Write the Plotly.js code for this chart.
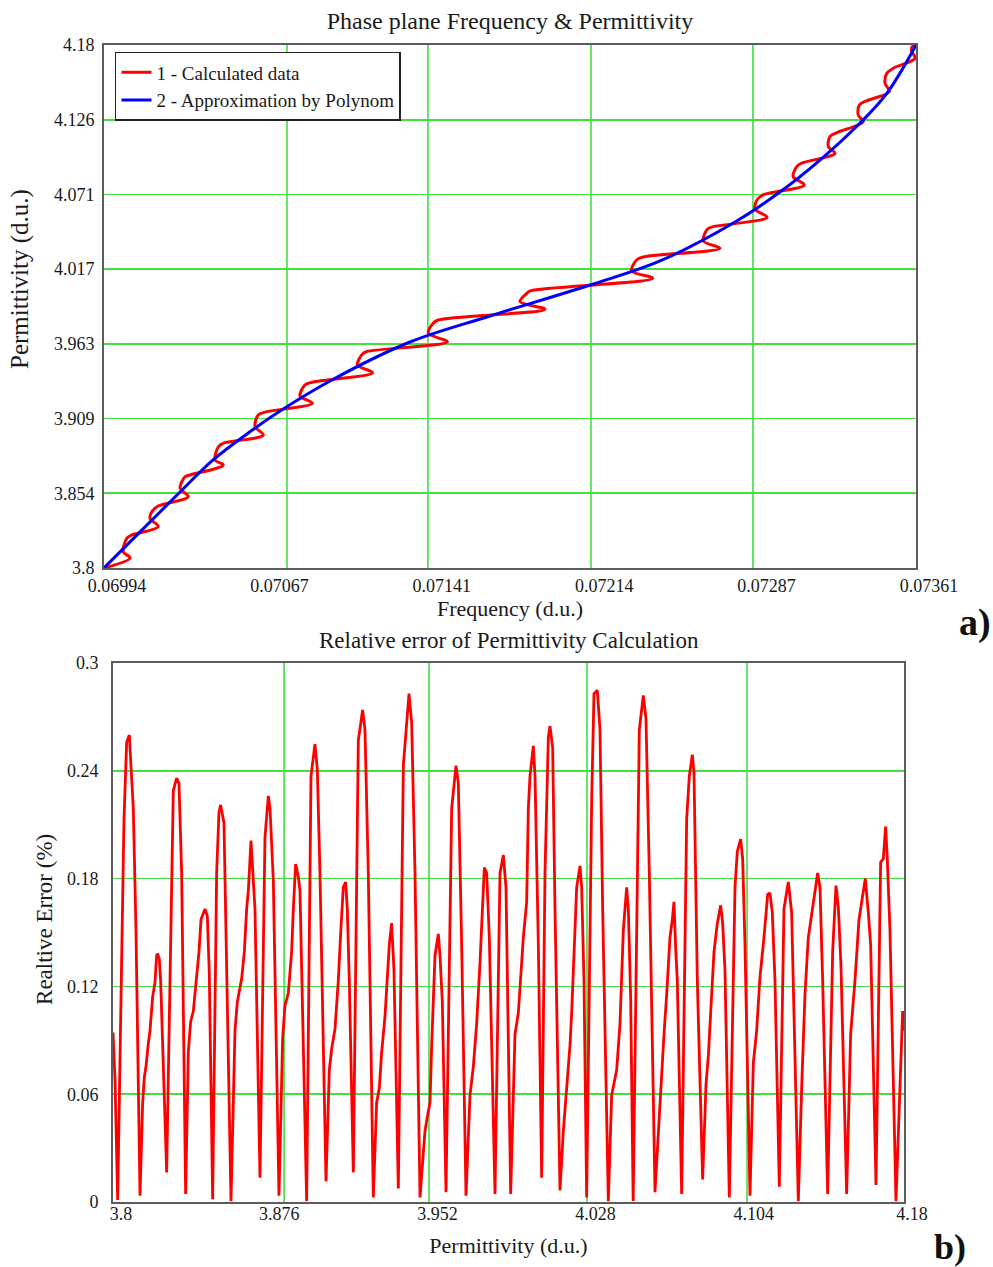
<!DOCTYPE html>
<html>
<head>
<meta charset="utf-8">
<script src="https://cdn.plot.ly/plotly-3.0.1.min.js"></script>
<style>
  html, body { margin: 0; padding: 0; background: #ffffff; }
  #chart { width: 993px; height: 1267px; }
</style>
</head>
<body>
<div id="chart"></div>
<script>
// ---- Panel a): phase plane, frequency vs permittivity ----
const freqCalc = [
  0.069940,
  0.070058, 0.070027, 0.070043, 0.070065,
  0.070185, 0.070148, 0.070156, 0.070185,
  0.070321, 0.070284, 0.070306, 0.070329,
  0.070479, 0.070442, 0.070457, 0.070478,
  0.070660, 0.070623, 0.070637, 0.070668,
  0.070882, 0.070826, 0.070849, 0.070885,
  0.071154, 0.071086, 0.071108, 0.071129,
  0.071492, 0.071406, 0.071428, 0.071450,
  0.071933, 0.071820, 0.071851, 0.071870,
  0.072420, 0.072325, 0.072347, 0.072378,
  0.072724, 0.072649, 0.072668, 0.072694,
  0.072937, 0.072882, 0.072894, 0.072923,
  0.073105, 0.073055, 0.073071, 0.073093,
  0.073244, 0.073214, 0.073221, 0.073252,
  0.073372, 0.073349, 0.073354, 0.073387,
  0.073489, 0.073470, 0.073478, 0.073507,
  0.073606, 0.073591, 0.073592, 0.073610
];
const permCalc = [
  3.8000,
  3.8073, 3.8118, 3.8216, 3.8240,
  3.8300, 3.8361, 3.8409, 3.8450,
  3.8518, 3.8579, 3.8663, 3.8676,
  3.8748, 3.8785, 3.8881, 3.8906,
  3.8966, 3.9027, 3.9112, 3.9133,
  3.9197, 3.9250, 3.9330, 3.9351,
  3.9419, 3.9475, 3.9555, 3.9573,
  3.9644, 3.9705, 3.9778, 3.9802,
  3.9880, 3.9935, 3.9996, 4.0015,
  4.0105, 4.0158, 4.0238, 4.0260,
  4.0323, 4.0376, 4.0463, 4.0480,
  4.0548, 4.0608, 4.0681, 4.0714,
  4.0783, 4.0843, 4.0916, 4.0941,
  4.1013, 4.1061, 4.1134, 4.1163,
  4.1243, 4.1291, 4.1364, 4.1395,
  4.1461, 4.1522, 4.1594, 4.1631,
  4.1703, 4.1751, 4.1786, 4.1800
];
const freqPoly = [0.069940, 0.070103, 0.070270, 0.070433, 0.070586, 0.070736, 0.070962, 0.071323,
                  0.071685, 0.072137, 0.072453, 0.072792, 0.072995, 0.073176, 0.073357, 0.073479, 0.073610];
const permPoly = [3.8000, 3.8262, 3.8530, 3.8785, 3.8974, 3.9141, 3.9359, 3.9642,
                  3.9831, 4.0056, 4.0231, 4.0514, 4.0732, 4.0964, 4.1233, 4.1451, 4.1800];

const freqTickText = ['0.06994', '0.07067', '0.07141', '0.07214', '0.07287', '0.07361'];
const permTickText = ['3.8', '3.854', '3.909', '3.963', '4.017', '4.071', '4.126', '4.18'];
const freqGrid = [0.070767, 0.071404, 0.072141, 0.072873];

// ---- Panel b): relative error of the permittivity calculation ----
const permErr = [
  3.80000, 3.80096, 3.80224, 3.80528, 3.80656, 3.80784, 3.80976, 3.81104, 3.81297,
  3.81425, 3.81505, 3.81585, 3.81697, 3.81777, 3.81905, 3.82017, 3.82097, 3.82145, 3.82225, 3.82289,
  3.82578, 3.82770, 3.82898, 3.83058, 3.83170, 3.83298,
  3.83490, 3.83618, 3.83730, 3.83859, 3.84019, 3.84131, 3.84227, 3.84419, 3.84531, 3.84627,
  3.84787, 3.84979, 3.85091, 3.85171, 3.85331, 3.85428,
  3.85668, 3.85860, 3.85972, 3.86180, 3.86309, 3.86421, 3.86501, 3.86629, 3.86709, 3.86821,
  3.87061, 3.87301, 3.87462, 3.87542, 3.87702,
  3.87974, 3.88150, 3.88262, 3.88422, 3.88582, 3.88663, 3.88775, 3.88903, 3.88983,
  3.89303, 3.89511, 3.89703, 3.89815, 3.89943,
  3.90232, 3.90392, 3.90504, 3.90664, 3.90824, 3.90936, 3.91064, 3.91176, 3.91256, 3.91352,
  3.91545, 3.91785, 3.91993, 3.92105, 3.92265,
  3.92505, 3.92666, 3.92794, 3.92906, 3.93066, 3.93274, 3.93386, 3.93498,
  3.93707, 3.93948, 3.94220, 3.94348, 3.94508,
  3.94749, 3.94909, 3.94989, 3.95101, 3.95229, 3.95309, 3.95389, 3.95469, 3.95629, 3.95709, 3.95821,
  3.95998, 3.96270, 3.96478, 3.96590, 3.96750,
  3.96958, 3.97150, 3.97311, 3.97471, 3.97631, 3.97759, 3.97839, 3.97951, 3.98079,
  3.98351, 3.98592, 3.98752, 3.98880,
  3.99104, 3.99312, 3.99473, 3.99633, 3.99713, 3.99873, 3.99953, 4.00033, 4.00193, 4.00273, 4.00433,
  4.00593, 4.00753, 4.00914, 4.00994, 4.01122, 4.01234,
  4.01474, 4.01634, 4.01794, 4.01955, 4.02035, 4.02195, 4.02275, 4.02435, 4.02515, 4.02627,
  4.02755, 4.02995, 4.03107, 4.03267, 4.03396, 4.03524,
  4.03796, 4.03956, 4.04196, 4.04356, 4.04516, 4.04676, 4.04757, 4.04869,
  4.04989, 4.05285, 4.05477, 4.05605, 4.05765,
  4.06038, 4.06198, 4.06310, 4.06470, 4.06598, 4.06758, 4.06870, 4.06950, 4.07030, 4.07110,
  4.07319, 4.07559, 4.07687, 4.07831, 4.07911, 4.08071,
  4.08327, 4.08488, 4.08600, 4.08712, 4.08872, 4.09032, 4.09192, 4.09288, 4.09400,
  4.09608, 4.09881, 4.09993, 4.10153, 4.10249, 4.10361,
  4.10601, 4.10761, 4.10921, 4.11081, 4.11273, 4.11450, 4.11562, 4.11674, 4.11802,
  4.12010, 4.12234, 4.12443, 4.12603, 4.12715,
  4.12923, 4.13083, 4.13243, 4.13403, 4.13564, 4.13724, 4.13852, 4.13964, 4.14092,
  4.14332, 4.14573, 4.14733, 4.14845, 4.14973,
  4.15245, 4.15437, 4.15645, 4.15837, 4.15965, 4.16141, 4.16286, 4.16398,
  4.16654, 4.16878, 4.17006, 4.17117, 4.17198, 4.17326,
  4.17615, 4.17855, 4.17935, 4.18000
];
const relErr = [
  0.0943, 0.0684, 0.0011, 0.2130, 0.2559, 0.2599, 0.2190, 0.1512, 0.0035,
  0.0554, 0.0694, 0.0754, 0.0883, 0.0953, 0.1143, 0.1222, 0.1372, 0.1382, 0.1352, 0.1232,
  0.0165, 0.1432, 0.2290, 0.2360, 0.2330, 0.1831,
  0.0045, 0.0833, 0.1003, 0.1063, 0.1252, 0.1392, 0.1572, 0.1631, 0.1592, 0.1272,
  0.0015, 0.1831, 0.2170, 0.2210, 0.2110, 0.1432,
  0.0005, 0.0953, 0.1113, 0.1242, 0.1392, 0.1631, 0.1731, 0.2011, 0.1831, 0.1631,
  0.0135, 0.2030, 0.2260, 0.2190, 0.1791,
  0.0035, 0.0913, 0.1093, 0.1163, 0.1392, 0.1631, 0.1881, 0.1811, 0.1731,
  0.0005, 0.2370, 0.2549, 0.2410, 0.1831,
  0.0115, 0.0734, 0.0853, 0.0963, 0.1232, 0.1492, 0.1751, 0.1781, 0.1631, 0.1232,
  0.0165, 0.2569, 0.2739, 0.2629, 0.1831,
  0.0025, 0.0554, 0.0634, 0.0833, 0.1033, 0.1432, 0.1552, 0.1292,
  0.0075, 0.2429, 0.2829, 0.2669, 0.1831,
  0.0025, 0.0275, 0.0395, 0.0474, 0.0554, 0.0873, 0.1113, 0.1372, 0.1492, 0.1372, 0.1113,
  0.0055, 0.2190, 0.2429, 0.2330, 0.1432,
  0.0035, 0.0594, 0.0754, 0.0993, 0.1332, 0.1631, 0.1861, 0.1831, 0.1472,
  0.0045, 0.1831, 0.1931, 0.1751,
  0.0045, 0.0933, 0.1053, 0.1332, 0.1472, 0.1671, 0.2190, 0.2370, 0.2539, 0.2370, 0.1432,
  0.0135, 0.1831, 0.2589, 0.2649, 0.2529, 0.1631,
  0.0065, 0.0395, 0.0634, 0.0873, 0.1053, 0.1472, 0.1751, 0.1871, 0.1751, 0.1232,
  0.0025, 0.2230, 0.2829, 0.2848, 0.2629, 0.1631,
  0.0005, 0.0594, 0.0734, 0.0993, 0.1512, 0.1751, 0.1631, 0.1133,
  0.0005, 0.2629, 0.2819, 0.2689, 0.1831,
  0.0055, 0.0395, 0.0654, 0.0933, 0.1153, 0.1472, 0.1572, 0.1671, 0.1412, 0.1232,
  0.0045, 0.2130, 0.2370, 0.2489, 0.2390, 0.1232,
  0.0125, 0.0654, 0.0813, 0.1033, 0.1392, 0.1552, 0.1651, 0.1552, 0.1292,
  0.0025, 0.1751, 0.1951, 0.2020, 0.1911, 0.1432,
  0.0035, 0.0773, 0.0953, 0.1252, 0.1472, 0.1711, 0.1721, 0.1611, 0.1232,
  0.0085, 0.1631, 0.1781, 0.1611, 0.1033,
  0.0005, 0.0634, 0.1153, 0.1472, 0.1592, 0.1711, 0.1831, 0.1751, 0.1232,
  0.0045, 0.1392, 0.1761, 0.1641, 0.1312,
  0.0045, 0.0933, 0.1232, 0.1572, 0.1671, 0.1801, 0.1611, 0.1432,
  0.0095, 0.1891, 0.1911, 0.2090, 0.1911, 0.1512,
  0.0005, 0.0893, 0.1063, 0.0953
];

const permAxisTickText = ['3.8', '3.876', '3.952', '4.028', '4.104', '4.18'];
const errTickText = ['0', '0.06', '0.12', '0.18', '0.24', '0.3'];
const permGrid = [3.8822, 3.9518, 4.0277, 4.1046];

// ---- styling ----
const FONT = 'Liberation Serif, Times New Roman, serif';
const GRID = '#42df42';
const FRAME = '#5c5c5c';
const INK = '#1a1a1a';

function evenTicks(lo, hi, n) {
  const out = [];
  for (let i = 0; i < n; i++) out.push(lo + (hi - lo) * i / (n - 1));
  return out;
}

const traces = [
  {
    x: freqCalc, y: permCalc, xaxis: 'x', yaxis: 'y',
    type: 'scatter', mode: 'lines',
    name: '1 - Calculated data',
    line: { color: '#ff0000', width: 3, shape: 'spline', smoothing: 0.9 }
  },
  {
    x: freqPoly, y: permPoly, xaxis: 'x', yaxis: 'y',
    type: 'scatter', mode: 'lines',
    name: '2 - Approximation by Polynom',
    line: { color: '#0000ff', width: 3, shape: 'spline', smoothing: 1 }
  },
  {
    x: permErr, y: relErr, xaxis: 'x2', yaxis: 'y2',
    type: 'scatter', mode: 'lines',
    showlegend: false,
    line: { color: '#ff0000', width: 2.8 }
  }
];

const axisBase = {
  showline: true, mirror: true, linecolor: FRAME, linewidth: 2,
  zeroline: false, ticks: '', fixedrange: true,
  tickfont: { family: FONT, size: 18, color: INK },
  tickmode: 'array'
};

// vertical grid lines of both panels
const shapes = [];
freqGrid.forEach(v => shapes.push({
  type: 'line', xref: 'x', yref: 'y domain', x0: v, x1: v, y0: 0, y1: 1,
  line: { color: GRID, width: 1.6 }, layer: 'below'
}));
permGrid.forEach(v => shapes.push({
  type: 'line', xref: 'x2', yref: 'y2 domain', x0: v, x1: v, y0: 0, y1: 1,
  line: { color: GRID, width: 1.6 }, layer: 'below'
}));

const layout = {
  width: 993, height: 1267,
  margin: { l: 0, r: 0, t: 0, b: 0 },
  paper_bgcolor: '#ffffff', plot_bgcolor: '#ffffff',
  font: { family: FONT, color: INK },
  title: {
    text: 'Phase plane Frequency & Permittivity',
    x: 0.5136, xanchor: 'center', y: 0.984, yanchor: 'middle',
    font: { family: FONT, size: 24, color: INK }
  },
  showlegend: true,
  legend: {
    x: 0.1158, xanchor: 'left', y: 0.959, yanchor: 'top',
    bgcolor: '#ffffff', bordercolor: '#222222', borderwidth: 1.5,
    font: { family: FONT, size: 19, color: INK },
    tracegroupgap: 0
  },
  xaxis: Object.assign({}, axisBase, {
    domain: [0.10473, 0.92246], anchor: 'y',
    range: [0.06994, 0.07361],
    tickvals: evenTicks(0.06994, 0.07361, 6), ticktext: freqTickText,
    showgrid: false, ticklabelshift: 13, ticklabelstandoff: 0,
    title: { text: 'Frequency (d.u.)', font: { family: FONT, size: 22, color: INK }, standoff: 6 }
  }),
  yaxis: Object.assign({}, axisBase, {
    domain: [0.5517, 0.96448], anchor: 'x',
    range: [3.8, 4.18],
    tickvals: evenTicks(3.8, 4.18, 8), ticktext: permTickText,
    showgrid: true, gridcolor: GRID, gridwidth: 1.6, ticklabelstandoff: 4
  }),
  xaxis2: Object.assign({}, axisBase, {
    domain: [0.1138, 0.91037], anchor: 'y2',
    range: [3.8, 4.18],
    tickvals: evenTicks(3.8, 4.18, 6), ticktext: permAxisTickText,
    showgrid: false, ticklabelshift: 8, ticklabelstandoff: -6,
    title: { text: 'Permittivity (d.u.)', font: { family: FONT, size: 22, color: INK }, standoff: 15 }
  }),
  yaxis2: Object.assign({}, axisBase, {
    domain: [0.0513, 0.47672], anchor: 'x2',
    range: [0, 0.3],
    tickvals: evenTicks(0, 0.3, 6), ticktext: errTickText,
    showgrid: true, gridcolor: GRID, gridwidth: 1.6, ticklabelstandoff: 9
  }),
  shapes: shapes,
  annotations: [
    {
      // y-axis title of panel a)
      text: 'Permittivity (d.u.)', textangle: -90,
      xref: 'paper', yref: 'paper', x: 0.0201, y: 0.7798,
      xanchor: 'center', yanchor: 'middle', showarrow: false,
      font: { family: FONT, size: 25, color: INK }
    },
    {
      // y-axis title of panel b)
      text: 'Realtive Error (%)', textangle: -90,
      xref: 'paper', yref: 'paper', x: 0.0453, y: 0.2747,
      xanchor: 'center', yanchor: 'middle', showarrow: false,
      font: { family: FONT, size: 23, color: INK }
    },
    {
      text: 'Relative error of Permittivity Calculation',
      xref: 'paper', yref: 'paper', x: 0.5121, y: 0.4941,
      xanchor: 'center', yanchor: 'middle', showarrow: false,
      font: { family: FONT, size: 23, color: INK }
    },
    {
      text: '<b>a)</b>', xref: 'paper', yref: 'paper', x: 0.982, y: 0.509,
      xanchor: 'center', yanchor: 'middle', showarrow: false,
      font: { family: FONT, size: 38, color: '#111111' }
    },
    {
      text: '<b>b)</b>', xref: 'paper', yref: 'paper', x: 0.9567, y: 0.0158,
      xanchor: 'center', yanchor: 'middle', showarrow: false,
      font: { family: FONT, size: 36, color: '#111111' }
    }
  ]
};

Plotly.newPlot('chart', traces, layout, { displayModeBar: false, staticPlot: true });
</script>
</body>
</html>
